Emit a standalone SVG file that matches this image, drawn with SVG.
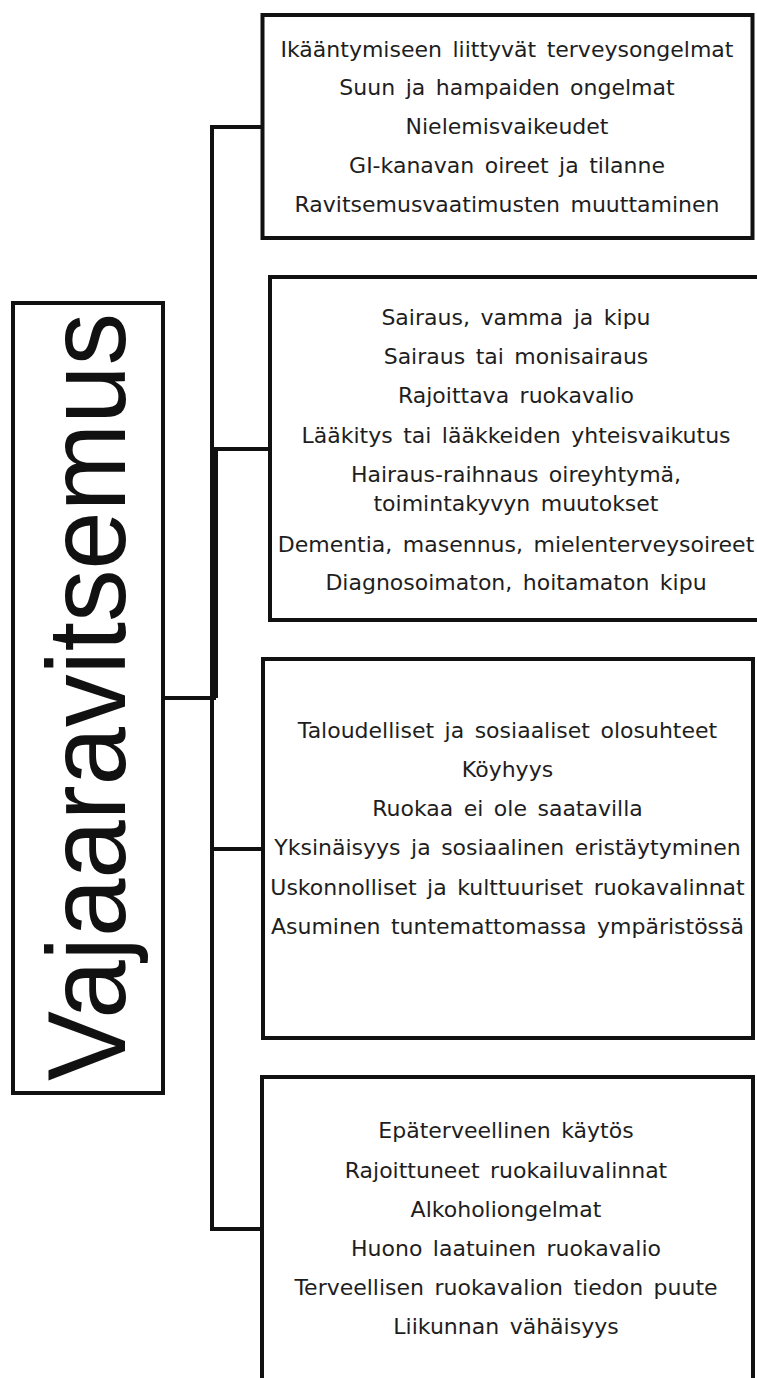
<svg xmlns="http://www.w3.org/2000/svg" width="757" height="1378" viewBox="0 0 757 1378">
  <style>
    .box { fill: #ffffff; stroke: #111111; stroke-width: 4; }
    .wire { fill: none; stroke: #111111; stroke-width: 4; stroke-linecap: square; }
    .item { font-family: "DejaVu Sans", Verdana, sans-serif; font-size: 22px; fill: #1e1e1e; text-anchor: middle; word-spacing: 3.5px; }
    .title { font-family: "Liberation Sans", Arial, sans-serif; font-size: 112px; fill: #111111; }
  </style>

  <rect width="757" height="1378" fill="#ffffff"/>

  <!-- tree connectors: trunk, branches and root link -->
  <g id="connectors">
    <path class="wire" d="M212 127 V1229"/>
    <path class="wire" d="M212 127 H262"/>
    <path class="wire" d="M212 449 H270"/>
    <path class="wire" d="M212 849 H262"/>
    <path class="wire" d="M212 1229 H262"/>
    <path class="wire" d="M163 698 H214"/>
    <line x1="214" y1="449" x2="214" y2="698" stroke="#111111" stroke-width="8"/>
  </g>

  <!-- root node -->
  <g id="root">
    <rect class="box" x="13" y="303" width="150" height="790"/>
    <text class="title" transform="translate(125,1081) rotate(-90)" x="0" y="0" textLength="768" lengthAdjust="spacingAndGlyphs">Vajaaravitsemus</text>
  </g>

  <!-- age-related health issues -->
  <g id="node-health">
    <rect class="box" x="262.5" y="15" width="490" height="223"/>
    <text class="item" x="507" y="57">Ikääntymiseen liittyvät terveysongelmat</text>
    <text class="item" x="507" y="95">Suun ja hampaiden ongelmat</text>
    <text class="item" x="507" y="134">Nielemisvaikeudet</text>
    <text class="item" x="507" y="173">GI-kanavan oireet ja tilanne</text>
    <text class="item" x="507" y="212">Ravitsemusvaatimusten muuttaminen</text>
  </g>

  <!-- illness, injury and pain -->
  <g id="node-illness">
    <rect class="box" x="270" y="277" width="500" height="343"/>
    <text class="item" x="516" y="325">Sairaus, vamma ja kipu</text>
    <text class="item" x="516" y="364">Sairaus tai monisairaus</text>
    <text class="item" x="516" y="403">Rajoittava ruokavalio</text>
    <text class="item" x="516" y="443">Lääkitys tai lääkkeiden yhteisvaikutus</text>
    <text class="item" x="516" y="482">Hairaus-raihnaus oireyhtymä,</text>
    <text class="item" x="516" y="511">toimintakyvyn muutokset</text>
    <text class="item" x="516" y="552">Dementia, masennus, mielenterveysoireet</text>
    <text class="item" x="516" y="590">Diagnosoimaton, hoitamaton kipu</text>
  </g>

  <!-- economic and social circumstances -->
  <g id="node-social">
    <rect class="box" x="263" y="659" width="490" height="379"/>
    <text class="item" x="507.5" y="738">Taloudelliset ja sosiaaliset olosuhteet</text>
    <text class="item" x="507.5" y="777">Köyhyys</text>
    <text class="item" x="507.5" y="816">Ruokaa ei ole saatavilla</text>
    <text class="item" x="507.5" y="855">Yksinäisyys ja sosiaalinen eristäytyminen</text>
    <text class="item" x="507.5" y="895">Uskonnolliset ja kulttuuriset ruokavalinnat</text>
    <text class="item" x="507.5" y="934">Asuminen tuntemattomassa ympäristössä</text>
  </g>

  <!-- lifestyle -->
  <g id="node-lifestyle">
    <rect class="box" x="262" y="1077" width="491" height="330"/>
    <text class="item" x="506" y="1138">Epäterveellinen käytös</text>
    <text class="item" x="506" y="1178">Rajoittuneet ruokailuvalinnat</text>
    <text class="item" x="506" y="1217">Alkoholiongelmat</text>
    <text class="item" x="506" y="1256">Huono laatuinen ruokavalio</text>
    <text class="item" x="506" y="1295">Terveellisen ruokavalion tiedon puute</text>
    <text class="item" x="506" y="1334">Liikunnan vähäisyys</text>
  </g>
</svg>
